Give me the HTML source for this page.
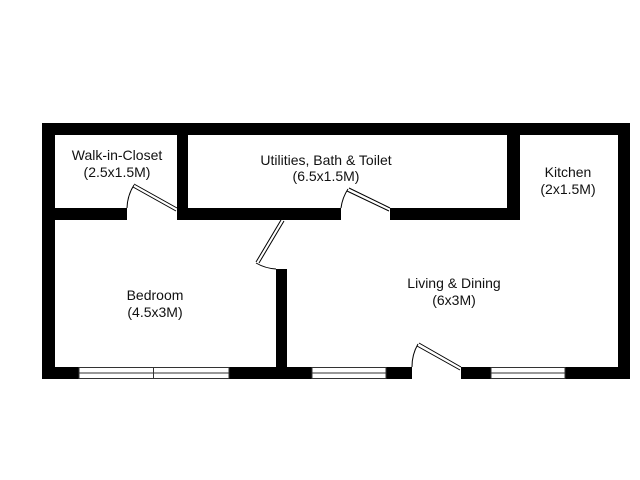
<!DOCTYPE html>
<html><head><meta charset="utf-8"><style>
html,body{margin:0;padding:0;background:#fff;}
svg{display:block}
text{font-family:"Liberation Sans",Arial,sans-serif;font-size:14px;fill:#111;text-anchor:middle}
</style></head><body>
<svg width="640" height="480" viewBox="0 0 640 480" xmlns="http://www.w3.org/2000/svg">
<rect width="640" height="480" fill="#fff"/>
<g fill="#000">
<rect x="42" y="123" width="588" height="12"/>
<rect x="42" y="123" width="13" height="256"/>
<rect x="618" y="123" width="12" height="256"/>
<rect x="42" y="367" width="588" height="12"/>
<rect x="42" y="208" width="85" height="12"/>
<rect x="177" y="123" width="11" height="97"/>
<rect x="177" y="208" width="164" height="12"/>
<rect x="390" y="208" width="130" height="12"/>
<rect x="507" y="123" width="13" height="97"/>
<rect x="276" y="269" width="11" height="110"/>
</g>
<g fill="#fff" stroke="#333" stroke-width="1">
<rect x="79" y="367.5" width="150" height="11"/>
<line x1="79" y1="373" x2="229" y2="373"/>
<line x1="153.5" y1="367.5" x2="153.5" y2="378.5"/>
<rect x="312" y="367.5" width="74" height="11"/>
<line x1="312" y1="373" x2="386" y2="373"/>
<rect x="491" y="367.5" width="74" height="11"/>
<line x1="491" y1="373" x2="565" y2="373"/>
</g>
<rect x="412" y="366" width="49" height="14" fill="#fff"/>
<g fill="none" stroke="#000" stroke-width="1">
<path d="M177 208 L134 184 M176 211 L133 187"/>
<path d="M134 185 A45 45 0 0 0 127 208"/>
<path d="M390 208 L349 188 M389 211 L347 191"/>
<path d="M348 189 A45 45 0 0 0 341 208"/>
<path d="M461 367 L419 343 M460 370 L417 346"/>
<path d="M418 344 A45 45 0 0 0 412 367"/>
<path d="M281 220 L256 262 M284 221 L259 263"/>
<path d="M256 263 A45 45 0 0 0 276 269"/>
</g>
<text x="117" y="160">Walk-in-Closet</text>
<text x="117" y="177">(2.5x1.5M)</text>
<text x="326" y="165">Utilities, Bath &amp; Toilet</text>
<text x="326" y="181">(6.5x1.5M)</text>
<text x="568" y="177">Kitchen</text>
<text x="568" y="194">(2x1.5M)</text>
<text x="155" y="300">Bedroom</text>
<text x="155" y="317">(4.5x3M)</text>
<text x="454" y="288">Living &amp; Dining</text>
<text x="454" y="305">(6x3M)</text>
</svg>
</body></html>
